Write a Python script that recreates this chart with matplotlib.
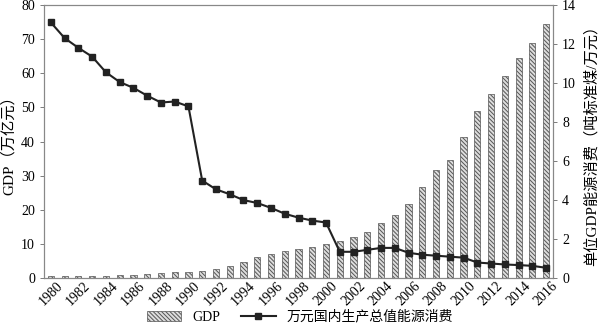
import numpy as np
import matplotlib
matplotlib.use("Agg")
import matplotlib.pyplot as plt

plt.rcParams['font.family'] = ['Liberation Serif', 'Noto Sans CJK SC', 'DejaVu Sans']
plt.rcParams['hatch.linewidth'] = 0.7

years = list(range(1980, 2017))
gdp = [0.5, 0.5, 0.5, 0.6, 0.7, 0.9, 1.0, 1.2, 1.5, 1.7, 1.9, 2.2, 2.7, 3.5, 4.8,
       6.1, 7.1, 7.9, 8.5, 9.0, 10.0, 11.0, 12.0, 13.6, 16.0, 18.6, 21.7, 26.8,
       31.7, 34.6, 41.2, 48.8, 53.9, 59.3, 64.4, 68.9, 74.4]
energy = [13.1, 12.3, 11.8, 11.35, 10.55, 10.05, 9.75, 9.35, 9.0, 9.05, 8.8, 5.0,
          4.55, 4.3, 4.0, 3.85, 3.6, 3.3, 3.1, 2.95, 2.85, 1.35, 1.35, 1.45, 1.55,
          1.55, 1.3, 1.2, 1.15, 1.1, 1.05, 0.8, 0.75, 0.7, 0.67, 0.63, 0.53]
tick_years = years[::2]

fig = plt.figure(figsize=(6.0, 3.28), dpi=100)
ax = fig.add_axes([0.0733, 0.152, 0.8484, 0.833])
x = np.arange(len(years))

bars = ax.bar(x, gdp, width=0.45, color='#dddddd', edgecolor='#555555',
              hatch='\\\\\\\\\\\\\\\\', linewidth=0.5, label='GDP')
ax.set_ylim(0, 80)
ax.set_xlim(-0.5, len(years) - 0.5)
ax.set_yticks(range(0, 81, 10))
ax.set_ylabel('GDP（万亿元）', fontsize=11, labelpad=4)
ax.set_xticks(x[::2])
ax.set_xticklabels([str(y) for y in tick_years], rotation=45, fontsize=10)

ax2 = ax.twinx()
line, = ax2.plot(x, energy, color='#222222', marker='s', markersize=5,
                 linewidth=1.5, label='万元国内生产总值能源消费')
ax2.set_ylim(0, 14)
ax2.set_yticks(range(0, 15, 2))
ax2.set_ylabel('单位GDP能源消费（吨标准煤/万元）', fontsize=11, labelpad=6)

for a in (ax, ax2):
    for s in a.spines.values():
        s.set_color('#888888')
        s.set_linewidth(0.8)
    a.tick_params(labelsize=10, length=3, color='#666666', width=0.6)
ax.tick_params(axis='x', length=0, pad=1)

fig.legend([bars, line], ['GDP', '万元国内生产总值能源消费'], loc='lower center',
           bbox_to_anchor=(0.5, -0.025), ncol=2, frameon=False, fontsize=10,
           handlelength=2.5, columnspacing=1.5)

fig.savefig('out.png', dpi=100)
